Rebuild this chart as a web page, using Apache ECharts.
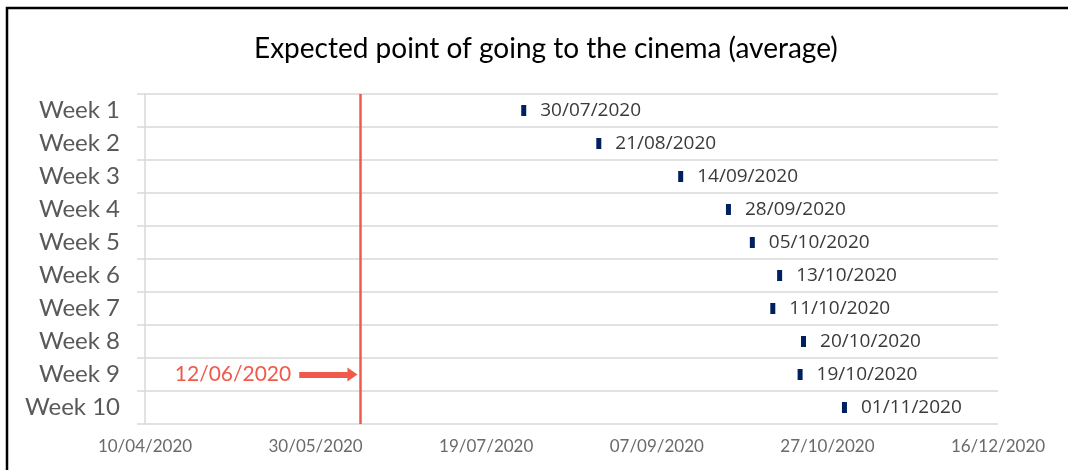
<!DOCTYPE html>
<html>
<head>
<meta charset="utf-8">
<script src="https://cdn.jsdelivr.net/npm/echarts@6/dist/echarts.min.js"></script>
<style>
  html, body { margin: 0; padding: 0; background: #ffffff; }
  #chart { width: 1068px; height: 470px; }
</style>
</head>
<body>
<div id="chart"></div>
<script>
// Survey weeks and the average expected date of returning to the cinema
const weeks = ['Week 1', 'Week 2', 'Week 3', 'Week 4', 'Week 5', 'Week 6', 'Week 7', 'Week 8', 'Week 9', 'Week 10'];
const expectedDates = ['30/07/2020', '21/08/2020', '14/09/2020', '28/09/2020', '05/10/2020',
                       '13/10/2020', '11/10/2020', '20/10/2020', '19/10/2020', '01/11/2020'];

// Date axis range and tick step (days)
const axisStart = '10/04/2020';
const axisEnd = '16/12/2020';
const tickStepDays = 50;

// Reopening reference date
const reopenDate = '12/06/2020';
const reopenWeek = 'Week 9';

const DAY = 86400000;
function parseDate(s) {
  const [d, m, y] = s.split('/').map(Number);
  return Date.UTC(y, m - 1, d);
}
const origin = parseDate(axisStart);
function toDay(s) { return Math.round((parseDate(s) - origin) / DAY); }
function fmtDay(v) {
  const dt = new Date(origin + v * DAY);
  const p = n => String(n).padStart(2, '0');
  return p(dt.getUTCDate()) + '/' + p(dt.getUTCMonth() + 1) + '/' + dt.getUTCFullYear();
}

const points = expectedDates.map((s, i) => ({ value: [toDay(s), weeks[i]], dateText: s }));
const reopenDay = toDay(reopenDate);

const RED = '#f05a4b';
const GRID = '#d9d9d9';
const HEAD = '"Lato", "Noto Sans", sans-serif';

const chart = echarts.init(document.getElementById('chart'), null, { renderer: 'canvas' });
chart.setOption({
  backgroundColor: '#ffffff',
  animation: false,
  title: {
    text: 'Expected point of going to the cinema (average)',
    left: 249,
    top: 30,
    textStyle: { fontFamily: HEAD, fontSize: 28, fontWeight: 'normal', color: '#000000' }
  },
  graphic: [{
    type: 'polyline',
    shape: { points: [[7, 470], [7, 8], [1068, 8]] },
    style: { stroke: '#000000', lineWidth: 2.5, fill: null },
    silent: true
  }],
  grid: { left: 145, right: 70, top: 94, bottom: 46, containLabel: false },
  xAxis: {
    type: 'value',
    min: 0,
    max: toDay(axisEnd),
    interval: tickStepDays,
    axisLine: { show: false },
    axisTick: { show: false },
    splitLine: { show: false },
    axisLabel: {
      formatter: fmtDay,
      margin: 14,
      fontFamily: HEAD,
      fontSize: 17,
      color: '#6a6a6a'
    }
  },
  yAxis: {
    type: 'category',
    data: weeks,
    inverse: true,
    boundaryGap: true,
    axisLine: { show: true, lineStyle: { color: GRID, width: 1.5 } },
    axisTick: { show: true, length: 8, lineStyle: { color: GRID, width: 1.5 } },
    splitLine: { show: true, lineStyle: { color: GRID, width: 1.5 } },
    axisLabel: {
      margin: 25,
      fontFamily: HEAD,
      fontSize: 24,
      color: '#595959'
    }
  },
  series: [{
    type: 'scatter',
    data: points,
    symbol: 'rect',
    symbolSize: [5, 11],
    itemStyle: { color: '#002060', opacity: 1 },
    label: {
      show: true,
      position: 'right',
      distance: 14,
      formatter: p => p.data.dateText,
      fontFamily: '"Open Sans", "Liberation Sans", sans-serif',
      fontSize: 19,
      color: '#3a3a3a'
    },
    markLine: {
      silent: true,
      animation: false,
      symbol: ['none', 'none'],
      data: [
        {
          xAxis: reopenDay,
          lineStyle: { color: RED, width: 2.5, type: 'solid' },
          label: { show: false }
        },
        [
          {
            coord: [reopenDay - 17.8, reopenWeek],
            symbol: 'none',
            lineStyle: { color: RED, width: 6, type: 'solid' },
            label: {
              show: true,
              position: 'start',
              distance: 8,
              formatter: reopenDate,
              fontFamily: HEAD,
              fontSize: 21,
              color: RED
            }
          },
          { coord: [reopenDay - 2.2, reopenWeek], symbol: 'triangle', symbolSize: [14, 10] }
        ]
      ]
    }
  }]
});
</script>
</body>
</html>
